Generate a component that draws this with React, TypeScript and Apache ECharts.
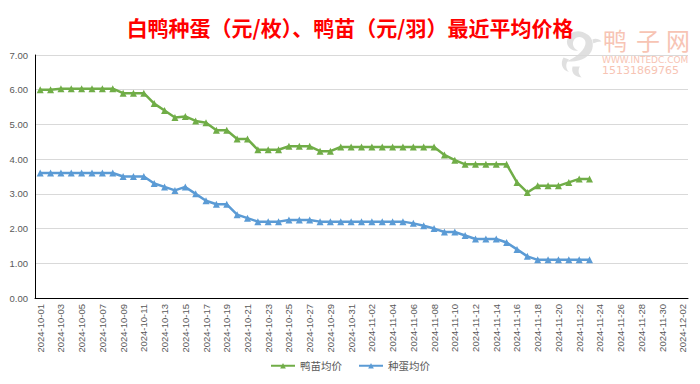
import React, { useEffect, useRef } from "react";
import * as echarts from "echarts";

const categories: string[] = [
  "2024-10-01", "2024-10-02", "2024-10-03", "2024-10-04", "2024-10-05", "2024-10-06", "2024-10-07", "2024-10-08",
  "2024-10-09", "2024-10-10", "2024-10-11", "2024-10-12", "2024-10-13", "2024-10-14", "2024-10-15", "2024-10-16",
  "2024-10-17", "2024-10-18", "2024-10-19", "2024-10-20", "2024-10-21", "2024-10-22", "2024-10-23", "2024-10-24",
  "2024-10-25", "2024-10-26", "2024-10-27", "2024-10-28", "2024-10-29", "2024-10-30", "2024-10-31",
  "2024-11-01", "2024-11-02", "2024-11-03", "2024-11-04", "2024-11-05", "2024-11-06", "2024-11-07", "2024-11-08",
  "2024-11-09", "2024-11-10", "2024-11-11", "2024-11-12", "2024-11-13", "2024-11-14", "2024-11-15", "2024-11-16",
  "2024-11-17", "2024-11-18", "2024-11-19", "2024-11-20", "2024-11-21", "2024-11-22", "2024-11-23", "2024-11-24",
  "2024-11-25", "2024-11-26", "2024-11-27", "2024-11-28", "2024-11-29", "2024-11-30", "2024-12-01", "2024-12-02",
];

const duckling: number[] = [
  6.0, 6.0, 6.03, 6.03, 6.03, 6.03, 6.03, 6.03, 5.9, 5.9,
  5.9, 5.6, 5.4, 5.2, 5.23, 5.1, 5.05, 4.83, 4.83, 4.58,
  4.58, 4.27, 4.27, 4.27, 4.37, 4.37, 4.37, 4.23, 4.23, 4.35,
  4.35, 4.35, 4.35, 4.35, 4.35, 4.35, 4.35, 4.35, 4.35, 4.12,
  3.97, 3.85, 3.85, 3.85, 3.85, 3.85, 3.33, 3.04, 3.23, 3.23,
  3.23, 3.33, 3.43, 3.43,
];

const eggs: number[] = [
  3.6, 3.6, 3.6, 3.6, 3.6, 3.6, 3.6, 3.6, 3.5, 3.5,
  3.5, 3.3, 3.2, 3.1, 3.2, 3.0, 2.8, 2.7, 2.7, 2.4,
  2.3, 2.2, 2.2, 2.2, 2.25, 2.25, 2.25, 2.2, 2.2, 2.2,
  2.2, 2.2, 2.2, 2.2, 2.2, 2.2, 2.15, 2.08, 2.0, 1.9,
  1.9, 1.8, 1.7, 1.7, 1.7, 1.6, 1.4, 1.2, 1.1, 1.1,
  1.1, 1.1, 1.1, 1.1,
];

const seriesNames: string[] = ["鸭苗均价", "种蛋均价"];
const titleText = "白鸭种蛋（元/枚）、鸭苗（元/羽）最近平均价格";
const logoChars: string[] = ["鸭", "子", "网"];

const duckPath =
  "M30 8 C22 2 10 4 8 14 C6 22 14 28 20 26 C14 24 12 16 18 12 C24 9 30 14 28 20 C26 28 16 34 8 38 C20 40 34 34 36 24 C38 16 34 10 30 8 Z " +
  "M4 34 C0 40 2 48 10 50 C6 46 6 40 10 36 Z M14 44 C12 50 16 56 24 56 C20 52 20 48 22 44 Z M36 14 C40 12 44 14 46 16 C42 16 40 17 37 18 Z";

echarts.graphic.registerShape("duckLogo", (echarts.graphic as any).extendPath(duckPath, {}));

export default function App() {
  const ref = useRef<HTMLDivElement>(null);
  useEffect(() => {
    if (!ref.current) return;
    const chart = echarts.init(ref.current, undefined, { renderer: "svg" });
    const colors = ["#70AD47", "#5B9BD5"];
    const logoX = [603, 636, 666];
    chart.setOption({
      animation: false,
      title: {
        text: titleText,
        left: "center",
        top: 11,
        textStyle: {
          color: "#FF0000",
          fontSize: 21,
          fontWeight: "bold",
          fontFamily: "Noto Sans CJK SC",
        },
      },
      graphic: [
        ...logoChars.map((c, i) => ({
          type: "text",
          left: logoX[i],
          top: 27,
          style: { text: c, fill: "#F7C4B4", font: "24px 'Noto Sans CJK SC'" },
          z: 0,
        })),
        {
          type: "text",
          left: 602,
          top: 55,
          style: { text: "WWW.INTEDC.COM", fill: "#F7C4B4", font: "9px 'DejaVu Sans'" },
          z: 0,
        },
        {
          type: "text",
          left: 602,
          top: 65,
          style: { text: "15131869765", fill: "#F7C4B4", font: "11px 'DejaVu Sans'" },
          z: 0,
        },
        {
          type: "duckLogo",
          x: 560,
          y: 27,
          scaleX: 0.9,
          scaleY: 0.9,
          style: { fill: "#D8D8D8", opacity: 0.8 },
          z: 0,
        },
      ],
      color: colors,
      grid: { left: 35, right: 12, top: 55, bottom: 86, containLabel: false },
      legend: {
        bottom: 8,
        left: "center",
        itemWidth: 24,
        itemHeight: 7,
        itemGap: 16,
        textStyle: { color: "#595959", fontSize: 10.5, fontFamily: "Noto Sans CJK SC" },
        data: seriesNames,
      },
      xAxis: {
        type: "category",
        data: categories,
        boundaryGap: true,
        axisLine: { show: true, lineStyle: { color: "#000000", width: 1 } },
        axisTick: { show: false },
        axisLabel: {
          interval: 1,
          rotate: 90,
          color: "#595959",
          fontSize: 9.5,
          fontFamily: "Liberation Sans",
          margin: 6,
        },
      },
      yAxis: {
        type: "value",
        min: 0,
        max: 7,
        interval: 1,
        axisLine: { show: true, lineStyle: { color: "#000000", width: 1 } },
        axisTick: { show: false },
        splitLine: { lineStyle: { color: "#D9D9D9", width: 1 } },
        axisLabel: {
          formatter: (v: number) => v.toFixed(2),
          color: "#595959",
          fontSize: 9.5,
          fontFamily: "Liberation Sans",
          margin: 7,
        },
      },
      series: [
        {
          name: seriesNames[0],
          type: "line",
          data: duckling,
          symbol: "triangle",
          symbolSize: 7,
          showAllSymbol: true,
          lineStyle: { width: 2.5, color: colors[0] },
          itemStyle: { color: colors[0] },
        },
        {
          name: seriesNames[1],
          type: "line",
          data: eggs,
          symbol: "triangle",
          symbolSize: 7,
          showAllSymbol: true,
          lineStyle: { width: 2.5, color: colors[1] },
          itemStyle: { color: colors[1] },
        },
      ],
    });
    return () => chart.dispose();
  }, []);
  return <div ref={ref} style={{ width: 700, height: 384, position: "absolute", left: 0, top: 0 }} />;
}
